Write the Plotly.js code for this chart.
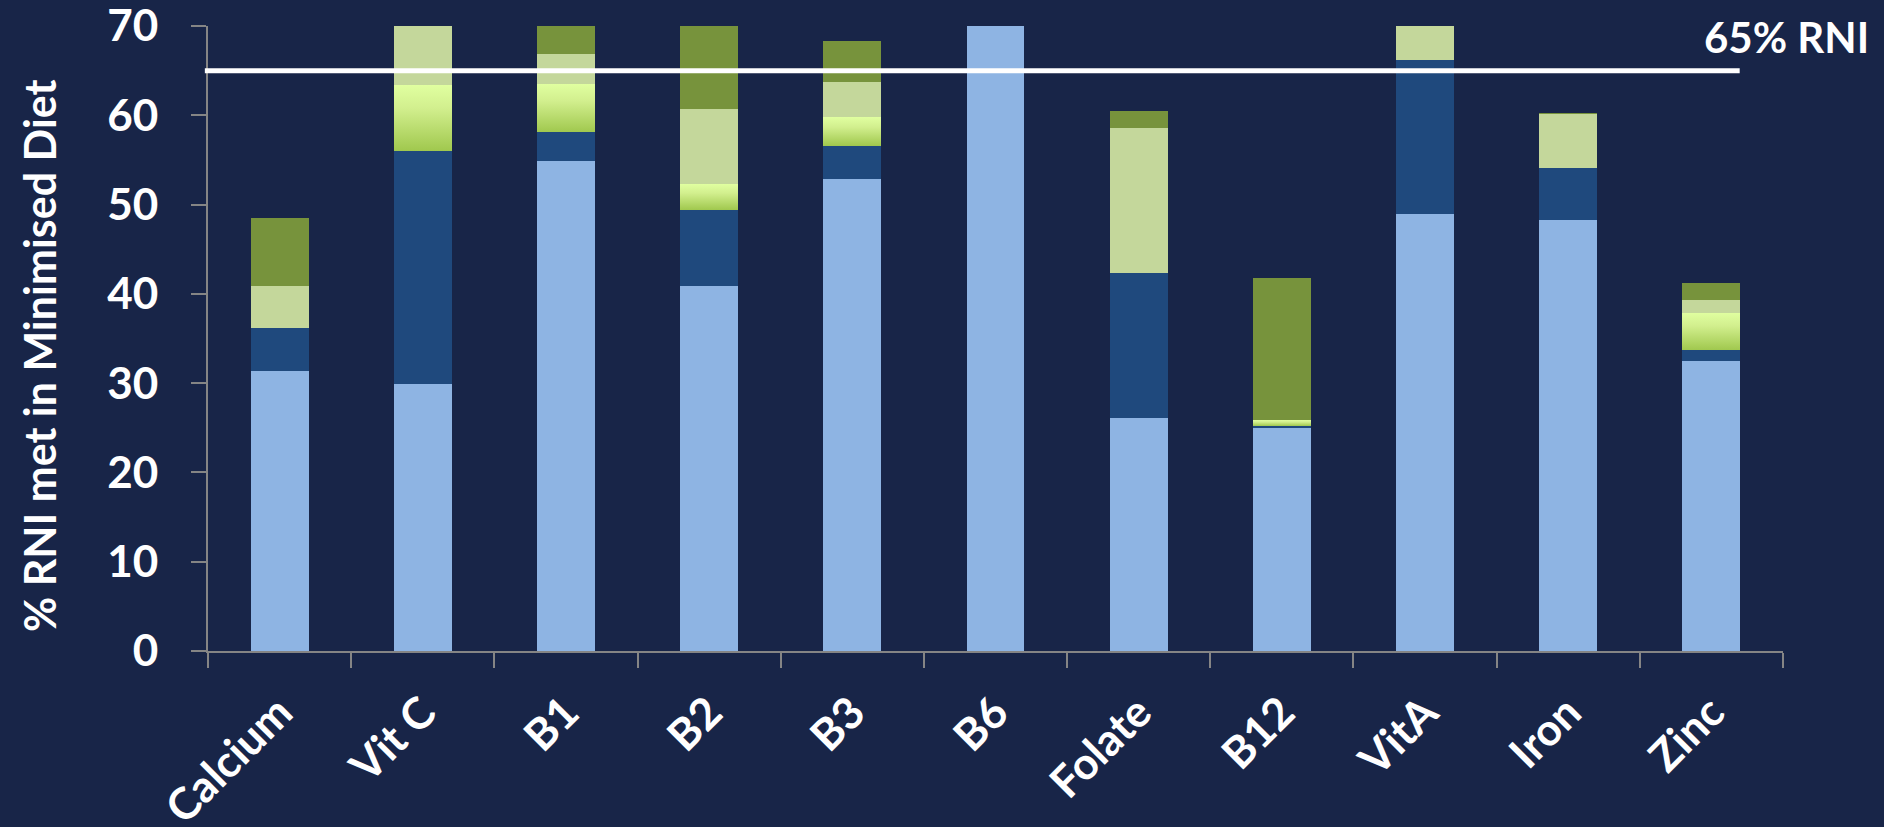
<!DOCTYPE html>
<html>
<head>
<meta charset="utf-8">
<script src="https://cdn.plot.ly/plotly-3.0.1.min.js"></script>
<style>
  html, body { margin: 0; padding: 0; background: #182548; }
  #chart { width: 1884px; height: 827px; }
</style>
</head>
<body>
<div id="chart"></div>
<script>
// Categories (nutrients)
const categories = ['Calcium', 'Vit C', 'B1', 'B2', 'B3', 'B6', 'Folate', 'B12', 'VitA', 'Iron', 'Zinc'];

// Stacked segments, bottom to top (% RNI met)
const seriesLightBlue = [31.4, 29.9, 54.9, 40.9, 52.9, 70.0, 26.1, 25.0, 49.0, 48.3, 32.5];
const seriesDarkBlue  = [4.8, 26.1, 3.2, 8.5, 3.7, 0, 16.2, 0.2, 17.2, 5.8, 1.2];
const seriesLimeGreen = [0, 7.4, 5.4, 2.9, 3.2, 0, 0, 0.7, 0, 0, 4.2];
const seriesPaleGreen = [4.7, 6.6, 3.4, 8.4, 3.9, 0, 16.3, 0, 3.8, 6.0, 1.4];
const seriesOlive     = [7.6, 0, 3.1, 9.3, 4.6, 0, 1.9, 15.9, 0, 0.2, 1.9];

// Reference line
const rniLevel = 65;
const rniLabel = '65% RNI';
const yTitle = '% RNI met in Minimised Diet';
const yTickVals = [0, 10, 20, 30, 40, 50, 60, 70];

const FONT = 'Lato, "Open Sans", sans-serif';
const BG = '#182548';

function bar(name, values, color) {
  return {
    type: 'bar', name: name, x: categories, y: values,
    marker: { color: color, line: { width: 0 } },
    hoverinfo: 'skip', cliponaxis: true
  };
}

const data = [
  bar('Segment 1', seriesLightBlue, '#8eb4e3'),
  bar('Segment 2', seriesDarkBlue, '#1f497d'),
  bar('Segment 3', seriesLimeGreen, '#c0e37a'),
  bar('Segment 4', seriesPaleGreen, '#c4d79b'),
  bar('Segment 5', seriesOlive, '#77933c')
];

const layout = {
  width: 1884, height: 827,
  paper_bgcolor: BG, plot_bgcolor: BG,
  margin: { l: 208, r: 101, t: 26, b: 176, pad: 0 },
  barmode: 'stack',
  bargap: 0.595,
  showlegend: false,
  font: { family: FONT, color: '#ffffff', size: 44, weight: 700 },
  xaxis: {
    type: 'category',
    showgrid: false, zeroline: false,
    showline: true, linecolor: '#858585', linewidth: 2,
    ticks: 'outside', tickson: 'boundaries', ticklen: 15, tickwidth: 2, tickcolor: '#858585',
    tickangle: -45,
    tickfont: { family: FONT, size: 44, color: '#ffffff', weight: 700 },
    ticklabelstandoff: 16,
    ticklabeloverflow: 'allow',
    fixedrange: true
  },
  yaxis: {
    range: [0, 70.0001],
    tickvals: yTickVals,
    showgrid: false, zeroline: false,
    showline: true, linecolor: '#858585', linewidth: 2,
    ticks: 'outside', ticklen: 15, tickwidth: 2, tickcolor: '#858585',
    tickfont: { family: FONT, size: 44, color: '#ffffff', weight: 700 },
    ticklabelstandoff: 24,
    ticklabeloverflow: 'allow',
    fixedrange: true
  },
  shapes: [{
    type: 'line', xref: 'paper', yref: 'y',
    x0: -0.002, x1: 0.9725, y0: rniLevel, y1: rniLevel,
    line: { color: '#ffffff', width: 5 }
  }],
  annotations: [
    {
      xref: 'paper', yref: 'paper',
      x: 1.0557, y: 0.982, xanchor: 'right', yanchor: 'middle',
      text: rniLabel, showarrow: false,
      font: { family: FONT, size: 42, color: '#ffffff', weight: 700 }
    },
    {
      xref: 'paper', yref: 'paper',
      x: -0.1073, y: 0.472, xanchor: 'center', yanchor: 'middle',
      textangle: -90,
      text: yTitle, showarrow: false,
      font: { family: FONT, size: 43, color: '#ffffff', weight: 700 }
    }
  ]
};

Plotly.newPlot('chart', data, layout, { displayModeBar: false, staticPlot: true }).then(function (gd) {
  // Vertical gradient for the lime segment (light at top, deeper green at bottom)
  const svgNS = 'http://www.w3.org/2000/svg';
  const mainSvg = gd.querySelector('svg.main-svg');
  let defs = mainSvg.querySelector('defs');
  if (!defs) { defs = document.createElementNS(svgNS, 'defs'); mainSvg.insertBefore(defs, mainSvg.firstChild); }
  const grad = document.createElementNS(svgNS, 'linearGradient');
  grad.setAttribute('id', 'limeGrad');
  grad.setAttribute('x1', '0'); grad.setAttribute('y1', '0');
  grad.setAttribute('x2', '0'); grad.setAttribute('y2', '1');
  [['0%', '#e0ffa0'], ['35%', '#d2ef8e'], ['100%', '#a0c84e']].forEach(function (s) {
    const stop = document.createElementNS(svgNS, 'stop');
    stop.setAttribute('offset', s[0]);
    stop.setAttribute('stop-color', s[1]);
    grad.appendChild(stop);
  });
  defs.appendChild(grad);
  const traces = gd.querySelectorAll('.barlayer .trace');
  if (traces[2]) {
    traces[2].querySelectorAll('path').forEach(function (p) { p.style.fill = 'url(#limeGrad)'; });
  }
});
</script>
</body>
</html>
